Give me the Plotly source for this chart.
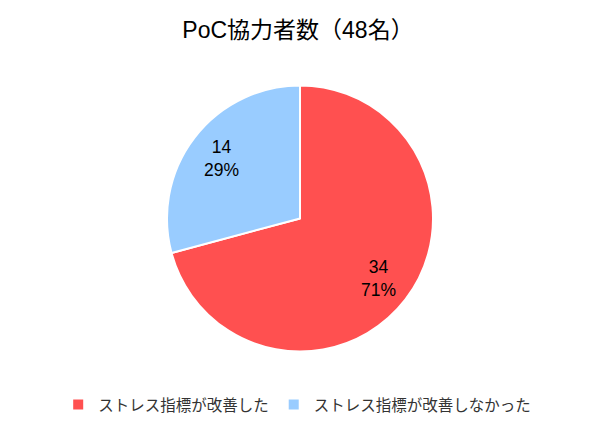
import math
import plotly.graph_objects as go

# data
labels = ["ストレス指標が改善した", "ストレス指標が改善しなかった"]
values = [34, 14]
colors = ["#FF5050", "#99CCFF"]
title_text = "PoC協力者数（48名）"

font_family = "Liberation Sans, Noto Sans CJK JP"

W, H = 600, 428
# pie placement (figure pixels)
cx, cy, r = 292, 210.5, 133

fig = go.Figure()
fig.add_trace(go.Pie(
    labels=labels,
    values=values,
    sort=False,
    direction="clockwise",
    rotation=0,
    marker=dict(colors=colors, line=dict(color="white", width=2)),
    textinfo="none",
    hoverinfo="label+value+percent",
    domain=dict(x=[0, 2 * cx / W], y=[(H - cy - r) / H, (H - cy + r) / H]),
))

# value / percent labels placed along each slice's mid angle
total = sum(values)
cum = 0
for v in values:
    mid = (cum + v / 2) / total * 2 * math.pi
    cum += v
    d = 0.74 * r
    px = cx + d * math.sin(mid)
    py = cy - d * math.cos(mid)
    fig.add_annotation(
        x=px / W, y=1 - py / H, xref="paper", yref="paper",
        text="{0}<br>{1:.0f}%".format(v, v / total * 100),
        showarrow=False,
        font=dict(size=17.5, color="black", family=font_family),
    )

fig.update_layout(
    width=W,
    height=H,
    margin=dict(l=0, r=0, t=0, b=0),
    paper_bgcolor="white",
    title=dict(
        text=title_text,
        x=290 / W, xanchor="center",
        y=1 - 22 / H, yanchor="middle",
        font=dict(size=23, color="black", family=font_family),
    ),
    legend=dict(
        orientation="h",
        x=0.482, xanchor="center",
        y=31 / H, yanchor="middle",
        font=dict(size=15.5, color="#333333", family=font_family),
        itemwidth=30,
    ),
    showlegend=True,
)

fig.write_html("out.html")
